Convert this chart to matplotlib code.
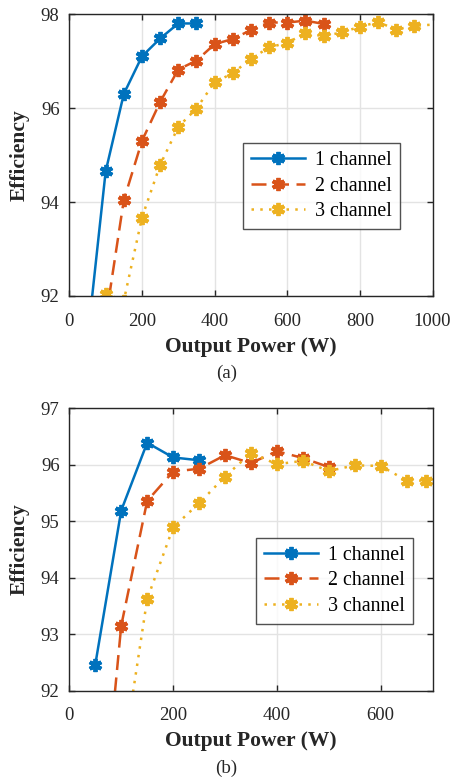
import matplotlib
matplotlib.use("Agg")
import matplotlib.pyplot as plt

# ---- data (a) ----
a_p1 = [50, 100, 150, 200, 250, 300, 350]
a_e1 = [91.07, 94.65, 96.30, 97.10, 97.48, 97.80, 97.80]
a_p2 = [100, 150, 200, 250, 300, 350, 400, 450, 500, 550, 600, 650, 700]
a_e2 = [91.5, 94.04, 95.30, 96.13, 96.82, 97.01, 97.36, 97.47, 97.66, 97.82, 97.82, 97.86, 97.79]
a_p3 = [100, 150, 200, 250, 300, 350, 400, 450, 500, 550, 600, 650, 700, 750, 800, 850, 900, 950, 1050]
a_e3 = [92.05, 91.9, 93.67, 94.79, 95.60, 95.99, 96.55, 96.74, 97.05, 97.29, 97.39, 97.59, 97.53, 97.61, 97.73, 97.83, 97.67, 97.75, 97.80]

# ---- data (b) ----
b_p1 = [50, 100, 150, 200, 250]
b_e1 = [92.46, 95.19, 96.39, 96.13, 96.08]
b_p2 = [50, 100, 150, 200, 250, 300, 350, 400, 450, 500]
b_e2 = [88.3, 93.15, 95.36, 95.88, 95.93, 96.17, 96.03, 96.24, 96.12, 95.96]
b_p3 = [100, 150, 200, 250, 300, 350, 400, 450, 500, 550, 600, 650, 688]
b_e3 = [90.6, 93.62, 94.89, 95.32, 95.79, 96.21, 96.01, 96.07, 95.89, 95.99, 95.98, 95.72, 95.72]

labels = ["1 channel", "2 channel", "3 channel"]
colors = ["#0072BD", "#D95319", "#EDB120"]

a_xticks = [0, 200, 400, 600, 800, 1000]
a_yticks = [92, 94, 96, 98]
b_xticks = [0, 200, 400, 600]
b_yticks = [92, 93, 94, 95, 96, 97]

plt.rcParams['font.family'] = ['Liberation Serif', 'DejaVu Serif']
plt.rcParams['mathtext.fontset'] = 'stix'

fig = plt.figure(figsize=(4.53, 7.81), dpi=100)
ax1 = fig.add_axes([0.153, 0.621, 0.802, 0.361])
ax2 = fig.add_axes([0.153, 0.1156, 0.802, 0.3616])

mk = (6, 2, 0)
styles = [dict(ls='-'), dict(ls=(0, (6, 3))), dict(ls=(0, (1, 2.5)))]

def draw(ax, series, xlim, ylim, xticks, yticks, legbox):
    for (p, e), c, st, lab in zip(series, colors, styles, labels):
        ax.plot(p, e, color=c, lw=1.8, marker=mk, ms=9.5, mew=2.8, label=lab, **st)
    ax.set_xlim(*xlim)
    ax.set_ylim(*ylim)
    ax.set_xticks(xticks)
    ax.set_yticks(yticks)
    ax.grid(True, color='#e3e3e3', lw=1.0)
    ax.set_axisbelow(True)
    for s in ax.spines.values():
        s.set_color('#262626')
        s.set_linewidth(1.0)
    ax.tick_params(direction='in', top=True, right=True, length=4, width=1,
                   colors='#262626', labelsize=13.5, labelcolor='#262626')
    ax.tick_params(axis='x', pad=12)
    ax.tick_params(axis='y', pad=7)
    ax.set_xlabel('Output Power (W)', fontsize=15.5, fontweight='bold', color='#262626', labelpad=5)
    ax.set_ylabel('Efficiency', fontsize=15.5, fontweight='bold', color='#262626', labelpad=8)
    leg = ax.legend(loc='lower left', bbox_to_anchor=legbox, fontsize=14.4, frameon=True,
                    fancybox=False, edgecolor='#262626', handlelength=2.7,
                    borderpad=0.4, labelspacing=0.32, handletextpad=0.5, borderaxespad=0)
    leg.get_frame().set_linewidth(1.0)
    return leg

draw(ax1, [(a_p1, a_e1), (a_p2, a_e2), (a_p3, a_e3)], (0, 1000), (92, 98), a_xticks, a_yticks,
     (0.478, 0.237))
draw(ax2, [(b_p1, b_e1), (b_p2, b_e2), (b_p3, b_e3)], (0, 700), (92, 97), b_xticks, b_yticks,
     (0.515, 0.238))

fig.text(0.5, 1 - 373 / 781, '(a)', ha='center', va='center', fontsize=13.7, color='#262626')
fig.text(0.5, 1 - 768 / 781, '(b)', ha='center', va='center', fontsize=13.7, color='#262626')

fig.savefig('out.png', dpi=100)
